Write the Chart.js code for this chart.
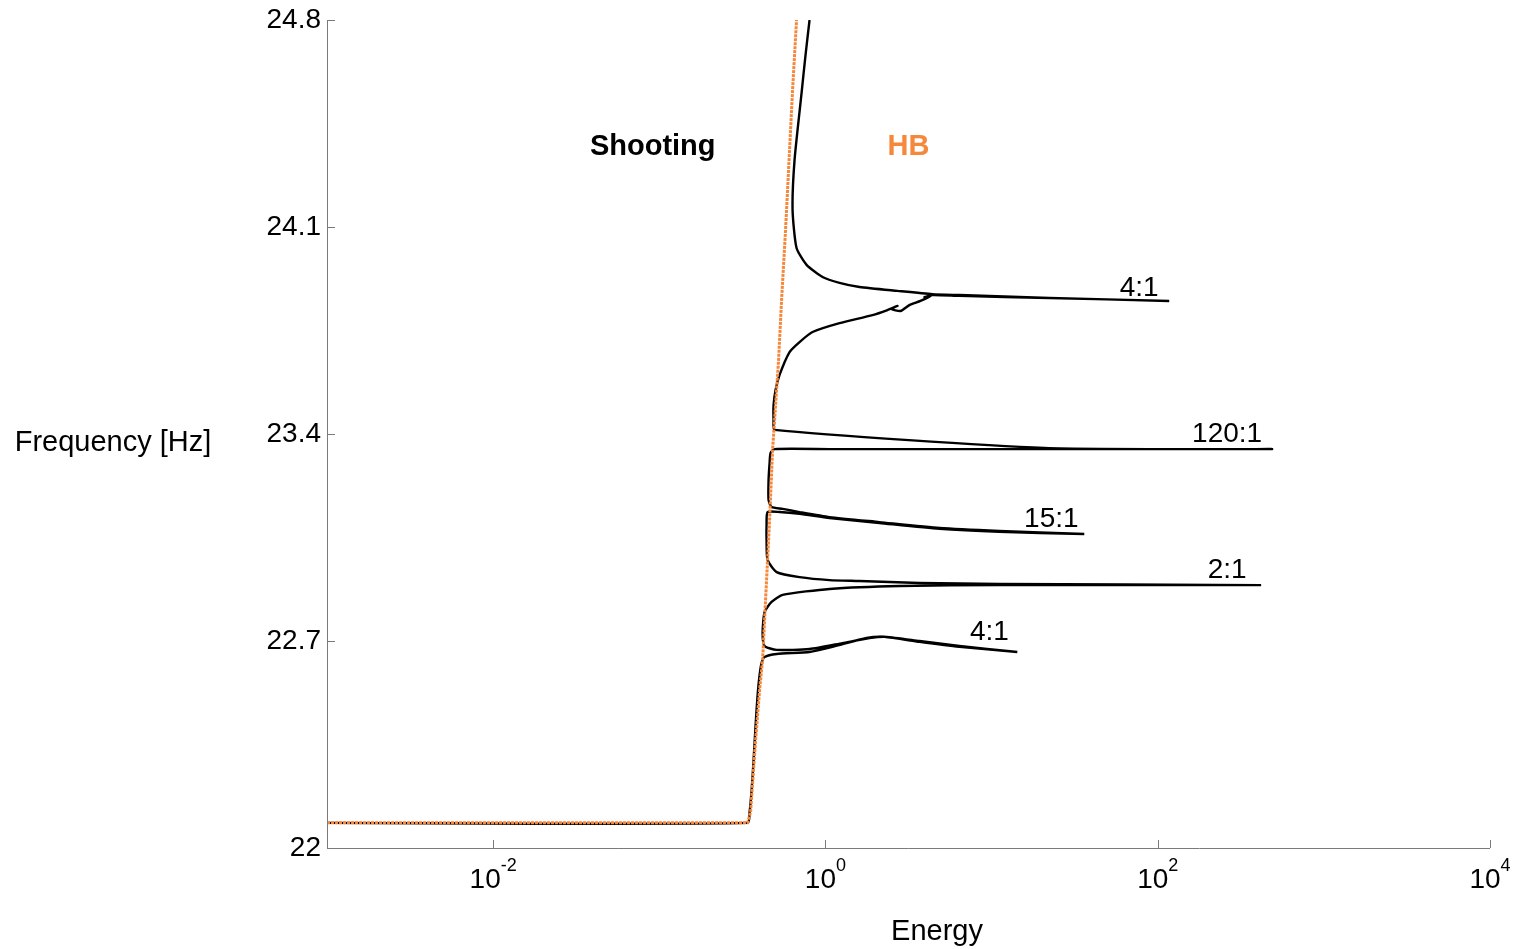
<!DOCTYPE html>
<html>
<head>
<meta charset="utf-8">
<style>
  html, body { margin: 0; padding: 0; background: #fff; }
  #wrap { width: 1516px; height: 949px; }
</style>
<script src="https://cdn.jsdelivr.net/npm/chart.js@4/dist/chart.umd.min.js"></script>
</head>
<body>
<div id="wrap"><canvas id="chart" width="1516" height="949"></canvas></div>
<script>
// Harmonic balance (HB) branch: energy vs frequency
const hbEnergy = [0.001, 0.340, 0.3545, 0.380, 0.4016, 0.4186, 0.4423, 0.4612, 0.4807, 0.4942, 0.5224, 0.5445, 0.5755, 0.6083, 0.6342, 0.6702];
const hbFreq   = [22.085, 22.085, 22.122, 22.365, 22.534, 22.636, 22.906, 23.109, 23.346, 23.447, 23.650, 23.853, 24.090, 24.360, 24.563, 24.800];

// Shooting branch, traced in order along the curve (tongues go out and back)
const shootEnergy = [
  0.001, 0.340, 0.3497, 0.3595, 0.3696, 0.3800, 0.3906, 0.4016, 0.4128, 0.4303,
  0.5082, 0.8024, 1.103, 1.767, 2.267, 3.680, 6.403, 14.29,
  6.403, 3.680, 2.330, 1.842, 1.267, 0.8024, 0.5082, 0.4303,
  0.4186, 0.4303, 0.4741, 0.5521, 1.058, 2.790, 11.14, 419.2,
  11.14, 3.680, 1.604, 1.058, 0.6987, 0.5082, 0.4485, 0.4423, 0.4423, 0.4485,
  0.5297, 0.6987, 1.058, 2.115, 4.855, 11.14, 36.14,
  11.14, 4.855, 2.115, 1.058, 0.6987, 0.5521, 0.4741, 0.4547, 0.4547, 0.4612, 0.4676, 0.4942,
  1.058, 11.14, 488.1,
  20.77, 0.4942,
  0.4874, 0.4874, 0.5011, 0.5297, 0.6083, 0.6987, 0.8363, 1.216, 1.920, 2.362,
  2.714, 2.497, 2.829, 3.204, 3.734, 4.294, 3.944, 4.406, 6.403, 22.27, 117.3,
  22.27, 6.403, 4.406, 2.714, 1.604, 1.216, 0.9607, 0.7698, 0.6702, 0.6342,
  0.6520, 0.7183, 0.7592, 0.8024
];
const shootFreq = [
  22.085, 22.085, 22.122, 22.196, 22.298, 22.416, 22.517, 22.585, 22.626, 22.646,
  22.656, 22.663, 22.680, 22.710, 22.714, 22.697, 22.680, 22.663,
  22.683, 22.700, 22.714, 22.710, 22.693, 22.673, 22.670, 22.683,
  22.727, 22.798, 22.832, 22.856, 22.876, 22.886, 22.889, 22.889,
  22.893, 22.896, 22.903, 22.906, 22.916, 22.933, 22.974, 23.042, 23.092, 23.136,
  23.136, 23.130, 23.116, 23.099, 23.079, 23.069, 23.062,
  23.072, 23.082, 23.102, 23.119, 23.136, 23.147, 23.153, 23.177, 23.244, 23.302, 23.336, 23.349,
  23.349, 23.349, 23.349,
  23.353, 23.414,
  23.447, 23.498, 23.549, 23.600, 23.677, 23.711, 23.745, 23.775, 23.802, 23.819,
  23.833, 23.823, 23.816, 23.836, 23.850, 23.867, 23.863, 23.870, 23.867, 23.860, 23.850,
  23.860, 23.870, 23.873, 23.884, 23.897, 23.911, 23.931, 23.972, 24.029, 24.158,
  24.327, 24.553, 24.682, 24.800
];

const xTicks = [1e-2, 1e0, 1e2, 1e4];
const xTickExponents = ['-2', '0', '2', '4'];
const yTicks = [22, 22.7, 23.4, 24.1, 24.8];
const yTickLabels = ['22', '22.7', '23.4', '24.1', '24.8'];

// resonance tongue labels
const tongueLabels = ['4:1', '120:1', '15:1', '2:1', '4:1'];
const tongueLabelEnergy = [77.4, 261.7, 22.9, 261.7, 9.70];
const tongueLabelFreq = [23.894, 23.400, 23.113, 22.940, 22.730];

const FONT = "'Liberation Sans', Arial, sans-serif";
const AXIS_COLOR = '#7a7a7a';
const HB_COLOR = '#f5883a';

const toPoints = (xs, ys) => xs.map((x, i) => ({ x, y: ys[i] }));

const annotate = {
    id: 'annotate',
    afterDraw(chart) {
        const { ctx, chartArea: area, scales: { x, y } } = chart;
        ctx.save();

        // axis lines + inward ticks
        ctx.strokeStyle = AXIS_COLOR;
        ctx.lineWidth = 1;
        ctx.beginPath();
        ctx.moveTo(area.left + 0.5, area.top);
        ctx.lineTo(area.left + 0.5, area.bottom + 0.5);
        ctx.lineTo(area.right, area.bottom + 0.5);
        ctx.stroke();

        yTicks.forEach((v) => {
            const py = Math.round(y.getPixelForValue(v)) + 0.5;
            ctx.beginPath();
            ctx.moveTo(area.left, py);
            ctx.lineTo(area.left + 8, py);
            ctx.stroke();
        });
        xTicks.forEach((v) => {
            const px = Math.round(x.getPixelForValue(v)) + 0.5;
            ctx.beginPath();
            ctx.moveTo(px, area.bottom);
            ctx.lineTo(px, area.bottom - 8);
            ctx.stroke();
        });

        // x tick labels as 10^n
        ctx.fillStyle = '#000';
        ctx.textBaseline = 'alphabetic';
        ctx.textAlign = 'left';
        xTicks.forEach((v, i) => {
            const px = x.getPixelForValue(v);
            ctx.font = `28px ${FONT}`;
            const baseW = ctx.measureText('10').width;
            ctx.font = `18px ${FONT}`;
            const expW = ctx.measureText(xTickExponents[i]).width;
            const start = px - (baseW + expW) / 2;
            ctx.font = `28px ${FONT}`;
            ctx.fillText('10', start, area.bottom + 40);
            ctx.font = `18px ${FONT}`;
            ctx.fillText(xTickExponents[i], start + baseW, area.bottom + 23);
        });

        // axis titles
        ctx.font = `29px ${FONT}`;
        ctx.textAlign = 'center';
        ctx.textBaseline = 'middle';
        ctx.fillText('Energy', 937, 932);
        ctx.fillText('Frequency [Hz]', 113, 443);

        // tongue labels
        ctx.font = `28px ${FONT}`;
        tongueLabels.forEach((t, i) => {
            ctx.fillText(t, x.getPixelForValue(tongueLabelEnergy[i]), y.getPixelForValue(tongueLabelFreq[i]));
        });

        // method labels
        ctx.font = `bold 29px ${FONT}`;
        ctx.fillStyle = '#000';
        ctx.fillText('Shooting', x.getPixelForValue(0.0913), y.getPixelForValue(24.371));
        ctx.fillStyle = HB_COLOR;
        ctx.fillText('HB', x.getPixelForValue(3.16), y.getPixelForValue(24.371));

        ctx.restore();
    },
};

new Chart(document.getElementById('chart'), {
    type: 'scatter',
    data: {
        datasets: [
            {
                label: 'HB',
                data: toPoints(hbEnergy, hbFreq),
                showLine: true,
                borderColor: HB_COLOR,
                borderWidth: 3,
                borderDash: [3, 1],
                pointRadius: 0,
                tension: 0,
            },
            {
                label: 'Shooting',
                data: toPoints(shootEnergy, shootFreq),
                showLine: true,
                borderColor: '#000',
                borderWidth: 2.4,
                pointRadius: 0,
                tension: 0.2,
            },
        ],
    },
    options: {
        responsive: false,
        animation: false,
        events: [],
        layout: { padding: { top: 20, right: 26, left: 0, bottom: 0 } },
        plugins: { legend: { display: false }, tooltip: { enabled: false } },
        scales: {
            x: {
                type: 'logarithmic',
                min: 1e-3,
                max: 1e4,
                grid: { display: false, drawTicks: false },
                border: { display: false },
                ticks: { display: false },
                afterBuildTicks: (scale) => { scale.ticks = xTicks.map((value) => ({ value })); },
                afterFit: (scale) => {
                    scale.height = 101;
                    scale.paddingLeft = 0;
                    scale.paddingRight = 0;
                },
            },
            y: {
                min: 22,
                max: 24.8,
                grid: { display: false, drawTicks: false },
                border: { display: false },
                ticks: {
                    padding: 6,
                    color: '#000',
                    font: { family: FONT, size: 28 },
                    callback: (value, index) => yTickLabels[index],
                },
                afterBuildTicks: (scale) => { scale.ticks = yTicks.map((value) => ({ value })); },
                afterFit: (scale) => {
                    scale.width = 327;
                    scale.paddingTop = 0;
                    scale.paddingBottom = 0;
                },
            },
        },
    },
    plugins: [annotate],
});
</script>
</body>
</html>
